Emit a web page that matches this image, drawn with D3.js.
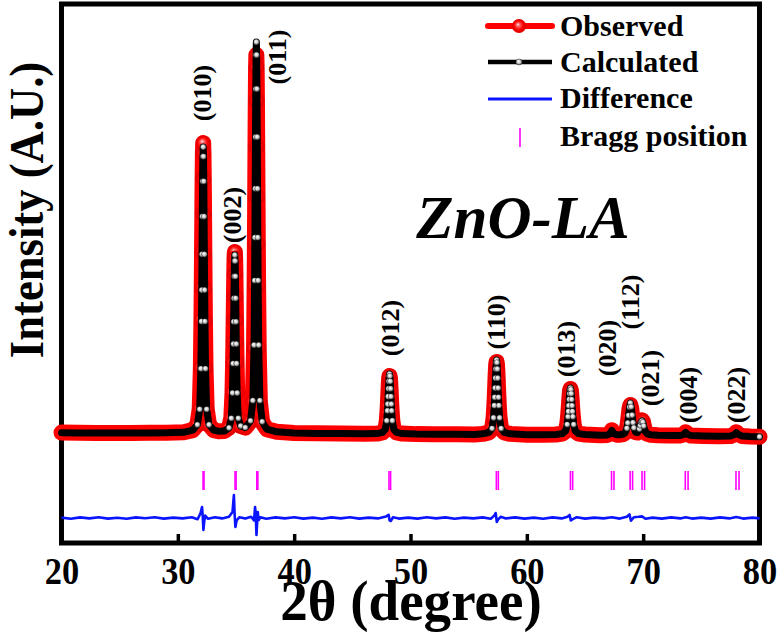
<!DOCTYPE html>
<html><head><meta charset="utf-8">
<script src="https://cdn.jsdelivr.net/npm/d3@7"></script>
<style>body{margin:0;background:#fff}svg{display:block}</style>
</head><body><svg id="c" width="779" height="636"></svg>
<script>
// ---------- DATA ----------
const twoTheta = [
 20.0,21.5,23.0,24.5,26.0,27.5,29.0,30.5,
 31.28,31.68,31.88,31.98,32.03,32.055,32.08,32.105,32.13,32.155,32.18,32.205,32.23,32.255,32.28,32.305,32.33,32.38,32.48,32.68,33.08,33.5,
 34.0,34.4,34.6,34.7,34.75,34.775,34.8,34.825,34.85,34.875,34.9,34.925,34.95,34.975,35.0,35.025,35.05,35.1,35.2,35.4,35.8,
 36.25,36.45,36.55,36.6,36.625,36.65,36.675,36.7,36.725,36.75,36.775,36.8,36.825,36.85,36.875,36.9,36.95,37.05,37.25,37.65,
 38.5,40.0,42.0,44.0,46.0,
 47.12,47.6,47.84,47.96,48.02,48.05,48.08,48.11,48.14,48.17,48.2,48.23,48.26,48.29,48.32,48.35,48.38,48.44,48.56,48.8,49.28,
 50.5,52.0,54.0,55.5,
 56.23,56.75,57.01,57.14,57.205,57.2375,57.27,57.3025,57.335,57.3675,57.4,57.4325,57.465,57.4975,57.53,57.5625,57.595,57.66,57.79,58.05,58.57,
 60.0,61.5,
 62.49,63.05,63.33,63.47,63.54,63.575,63.61,63.645,63.68,63.715,63.75,63.785,63.82,63.855,63.89,63.925,63.96,64.03,64.17,64.45,65.01,
 66.3,66.9,67.1,67.2,67.3,67.4,67.5,67.8,68.0,
 68.3,68.45,68.6,68.675,68.75,68.825,68.9,68.975,69.05,69.125,69.2,69.35,69.5,
 69.6,69.675,69.75,69.825,69.9,69.975,70.05,70.125,70.2,70.35,70.65,71.25,72.3,
 73.2,73.5,73.65,73.8,74.1,75.2,76.5,
 77.5,77.85,78.0,78.15,78.5,79.2,80.0
];
const observed = [
 310,305,300,302,298,305,308,318,
 372,510,902,1931,3128,3925,4831,5788,6680,7311,7550,7290,6640,5760,4790,3900,3100,1931,902,510,372,345,
 350,431,676,1318,2065,2563,3128,3725,4282,4676,4825,4676,4282,3725,3128,2563,2065,1318,676,478,435,
 596,1084,2426,3986,5025,6206,7454,8616,9438,9750,9438,8616,7454,6206,5025,3986,2426,1084,574,395,
 330,300,292,285,280,
 285,312,391,597,837,998,1179,1371,1550,1677,1725,1677,1550,1371,1179,998,837,597,391,312,285,
 272,268,266,265,
 278,313,411,668,968,1168,1394,1634,1857,2015,2075,2015,1857,1634,1394,1168,968,668,411,313,278,
 258,255,
 262,283,345,509,699,825,969,1121,1262,1362,1400,1362,1262,1121,969,825,699,509,345,283,262,
 245,250,275,320,370,325,282,255,257,
 274,308,411,536,715,913,1000,916,723,545,424,322,312,
 353,411,498,592,620,588,490,399,336,280,257,245,236,
 238,268,320,272,238,226,220,
 224,268,320,272,224,212,205
];
const calculated = [
 305,303,302,300,300,302,306,316,
 372,507,893,1909,3089,3875,4769,5713,6592,7214,7450,7214,6592,5713,4769,3875,3089,1909,893,507,372,345,
 350,429,669,1301,2036,2525,3081,3669,4216,4603,4750,4603,4216,3669,3081,2525,2036,1301,669,476,435,
 605,1111,2499,4112,5188,6409,7700,8902,9752,10075,9752,8902,7700,6409,5188,4112,2499,1111,583,398,
 330,300,290,286,280,
 285,314,395,609,857,1023,1211,1409,1594,1725,1775,1725,1594,1409,1211,1023,857,609,395,314,285,
 272,268,266,265,
 279,314,415,680,987,1193,1426,1672,1901,2063,2125,2063,1901,1672,1426,1193,987,680,415,314,279,
 258,255,
 262,284,348,514,708,838,984,1139,1284,1386,1425,1386,1284,1139,984,838,708,514,348,284,262,
 245,250,272,315,362,318,280,255,257,
 276,312,420,552,740,950,1050,955,748,560,430,322,310,
 348,402,485,575,600,570,478,392,332,278,256,245,236,
 238,266,315,270,238,226,220,
 224,265,310,268,224,212,205
];
const diffTheta = [
 20,20.8,21.6,22.4,23.2,24,24.8,25.6,26.4,27.2,28,28.8,29.6,30.4,31.2,31.7,31.95,32.08,32.14,32.2,32.27,32.35,32.6,
 33.2,33.8,34.4,34.7,34.82,34.88,34.95,35.05,35.3,35.8,36.3,36.55,36.64,36.7,36.76,36.82,36.87,36.95,37.1,37.6,
 38.4,39.2,40,40.8,41.6,42.4,43.2,44,44.8,45.6,46.4,47.2,47.9,48.12,48.2,48.3,48.5,49,49.8,50.6,51.4,52.2,53,53.8,
 54.6,55.4,56.2,56.9,57.2,57.32,57.42,57.52,57.75,58.2,59,59.8,60.6,61.4,62.2,63,63.5,63.68,63.78,63.95,64.3,65,
 65.8,66.6,67.3,68,68.6,68.82,68.95,69.2,69.6,69.9,70.2,70.8,71.6,72.4,73.2,73.65,74.2,75,75.8,76.6,77.4,78,78.6,79.4,80
];
const difference = [
 10,-20,15,-10,20,-15,5,-20,15,-5,20,-15,10,-10,20,-30,120,275,50,-300,-80,60,-20,
 20,-10,30,150,575,100,-225,-60,20,-15,30,-60,275,80,-425,-100,150,-50,20,-20,
 15,-10,20,-15,10,-20,15,-10,20,-15,10,-10,40,80,-60,-75,20,-15,10,-15,20,-10,15,-20,
 10,-10,15,-20,60,125,-100,-40,30,-10,15,-15,10,-20,15,-10,30,75,-60,-30,20,-15,
 10,-10,20,-15,30,90,-70,20,30,40,-20,10,-15,15,-10,20,-15,10,-15,15,-10,25,-15,10,-10
];
const braggPositions = [32.17,34.92,36.79,48.15,57.38,63.75,67.28,68.88,69.9,73.62,77.98];
const braggKa2 = [32.25,35.01,36.88,48.29,57.55,63.94,67.49,69.09,70.12,73.86,78.24];
const hklLabels = ["(010)","(002)","(011)","(012)","(110)","(013)","(020)","(112)","(021)","(004)","(022)"];
const hklTheta = [32.16,34.66,38.6,48.32,57.35,63.37,66.9,68.87,70.59,73.86,77.98];
const hklIntensity = [8800,5750,9700,2925,3075,2400,2425,3575,1675,1250,1250];
const xTicks = [20,30,40,50,60,70,80];
const legendLabels = ["Observed","Calculated","Difference","Bragg position"];
const sampleName = "ZnO-LA";
const xTitle = "2\u03B8 (degree)";
const yTitle = "Intensity (A.U.)";

// ---------- CHART ----------
const L = 61.5, R = 759.5, T = 4, B = 543;
const svg = d3.select("#c");
const serif = "'Liberation Serif','Times New Roman',serif";
const x = d3.scaleLinear().domain([20, 80]).range([L, R]);
const y = d3.scaleLinear().domain([-2450, 11025]).range([B, T]);
const diffOffset = -1825;
const braggTop = -650, braggBottom = -1125;

const defs = svg.append("defs");
const rg = defs.append("radialGradient").attr("id", "redBall")
  .attr("cx", "50%").attr("cy", "50%").attr("r", "50%").attr("fx", "42%").attr("fy", "38%");
rg.append("stop").attr("offset", "0%").attr("stop-color", "#ffe6e6");
rg.append("stop").attr("offset", "28%").attr("stop-color", "#ff5a5a");
rg.append("stop").attr("offset", "65%").attr("stop-color", "#ff0000");
rg.append("stop").attr("offset", "100%").attr("stop-color", "#d80000");
const wg = defs.append("radialGradient").attr("id", "whiteBall")
  .attr("cx", "50%").attr("cy", "50%").attr("r", "50%").attr("fx", "40%").attr("fy", "35%");
wg.append("stop").attr("offset", "0%").attr("stop-color", "#ffffff");
wg.append("stop").attr("offset", "55%").attr("stop-color", "#d0d0d0");
wg.append("stop").attr("offset", "100%").attr("stop-color", "#303030");

// frame
svg.append("rect").attr("x", L).attr("y", T).attr("width", R - L).attr("height", B - T)
  .attr("fill", "none").attr("stroke", "#000").attr("stroke-width", 5);

// x axis (ticks inside)
const xAxis = d3.axisBottom(x).tickValues(xTicks).tickSize(0).tickPadding(0).tickFormat(d3.format("d"));
const gx = svg.append("g").attr("transform", `translate(0,${B})`).call(xAxis);
gx.select(".domain").remove();
gx.selectAll(".tick line").remove();
gx.selectAll(".tick").filter(d => d > 20 && d < 80).append("line")
  .attr("y1", 0).attr("y2", -9).attr("stroke", "#000").attr("stroke-width", 3.5);
gx.selectAll(".tick text").attr("dy", null).attr("y", 0)
  .attr("transform", "translate(0,41) scale(0.93,1)")
  .attr("font-family", serif).attr("font-weight", "bold").attr("font-size", 37).attr("fill", "#000");

// titles
svg.append("text").attr("transform", "translate(411,620) scale(0.95,1)").attr("text-anchor", "middle")
  .attr("font-family", serif).attr("font-weight", "bold").attr("font-size", 58).text(xTitle);
svg.append("text").attr("transform", "translate(43,210) rotate(-90) scale(0.93,1)").attr("text-anchor", "middle")
  .attr("font-family", serif).attr("font-weight", "bold").attr("font-size", 48).text(yTitle);

const pts = twoTheta.map((t, i) => ({t, o: observed[i], c: calculated[i]}));

// observed
svg.append("path").datum(pts).attr("d", d3.line().x(d => x(d.t)).y(d => y(d.o)))
  .attr("fill", "none").attr("stroke", "#ff0000").attr("stroke-width", 16)
  .attr("stroke-linejoin", "round").attr("stroke-linecap", "round");
svg.append("g").selectAll("circle").data(pts.filter((d, i) => d.o >= 400 || i === pts.length - 1))
  .join("circle").attr("cx", d => x(d.t)).attr("cy", d => y(d.o)).attr("r", 7.5).attr("fill", "url(#redBall)");

// calculated
svg.append("path").datum(pts).attr("d", d3.line().x(d => x(d.t)).y(d => y(d.c)))
  .attr("fill", "none").attr("stroke", "#000").attr("stroke-width", 7)
  .attr("stroke-linejoin", "round").attr("stroke-linecap", "round");
svg.append("g").selectAll("circle").data(pts.filter((d, i) => d.c >= 400 || i === pts.length - 1))
  .join("circle").attr("cx", d => x(d.t)).attr("cy", d => y(d.c)).attr("r", 3).attr("fill", "url(#whiteBall)");

// difference
const dpts = diffTheta.map((t, i) => ({t, v: difference[i]}));
svg.append("path").datum(dpts).attr("d", d3.line().x(d => x(d.t)).y(d => y(d.v + diffOffset)))
  .attr("fill", "none").attr("stroke", "#0a14ff").attr("stroke-width", 2.6).attr("stroke-linejoin", "round");

// bragg ticks
svg.append("g").selectAll("line").data(braggPositions.concat(braggKa2)).join("line")
  .attr("x1", d => x(d)).attr("x2", d => x(d)).attr("y1", y(braggTop)).attr("y2", y(braggBottom))
  .attr("stroke", "#ff00ff").attr("stroke-width", 1.6);

// hkl labels
svg.append("g").selectAll("text").data(hklLabels).join("text")
  .attr("transform", (d, i) => `translate(${x(hklTheta[i])},${y(hklIntensity[i])}) rotate(-90)`)
  .attr("text-anchor", "middle").attr("dominant-baseline", "central")
  .attr("font-family", serif).attr("font-weight", "bold").attr("font-size", 26).text(d => d);

// sample name
svg.append("text").attr("x", 523).attr("y", 238).attr("text-anchor", "middle")
  .attr("font-family", serif).attr("font-weight", "bold").attr("font-style", "italic")
  .attr("font-size", 61).text(sampleName);

// legend
const lg = svg.append("g");
const rowY = [26, 62, 99, 137.5];
const baseY = [36, 72, 108, 145.5];
const lx1 = 488, lx2 = 552, lxc = 519;
lg.append("line").attr("x1", lx1).attr("x2", lx2).attr("y1", rowY[0]).attr("y2", rowY[0])
  .attr("stroke", "#ff0000").attr("stroke-width", 6).attr("stroke-linecap", "round");
lg.append("circle").attr("cx", lxc).attr("cy", rowY[0]).attr("r", 7).attr("fill", "url(#redBall)");
lg.append("line").attr("x1", lx1).attr("x2", lx2).attr("y1", rowY[1]).attr("y2", rowY[1])
  .attr("stroke", "#000").attr("stroke-width", 4.5);
lg.append("circle").attr("cx", lxc).attr("cy", rowY[1]).attr("r", 3.2).attr("fill", "url(#whiteBall)");
lg.append("line").attr("x1", lx1).attr("x2", lx2).attr("y1", rowY[2]).attr("y2", rowY[2])
  .attr("stroke", "#0a14ff").attr("stroke-width", 3);
lg.append("line").attr("x1", 520).attr("x2", 520).attr("y1", 128).attr("y2", 147)
  .attr("stroke", "#ff00ff").attr("stroke-width", 1.6);
lg.selectAll("text").data(legendLabels).join("text")
  .attr("x", 560).attr("y", (d, i) => baseY[i])
  .attr("font-family", serif).attr("font-weight", "bold").attr("font-size", 30).text(d => d);
</script></body></html>
